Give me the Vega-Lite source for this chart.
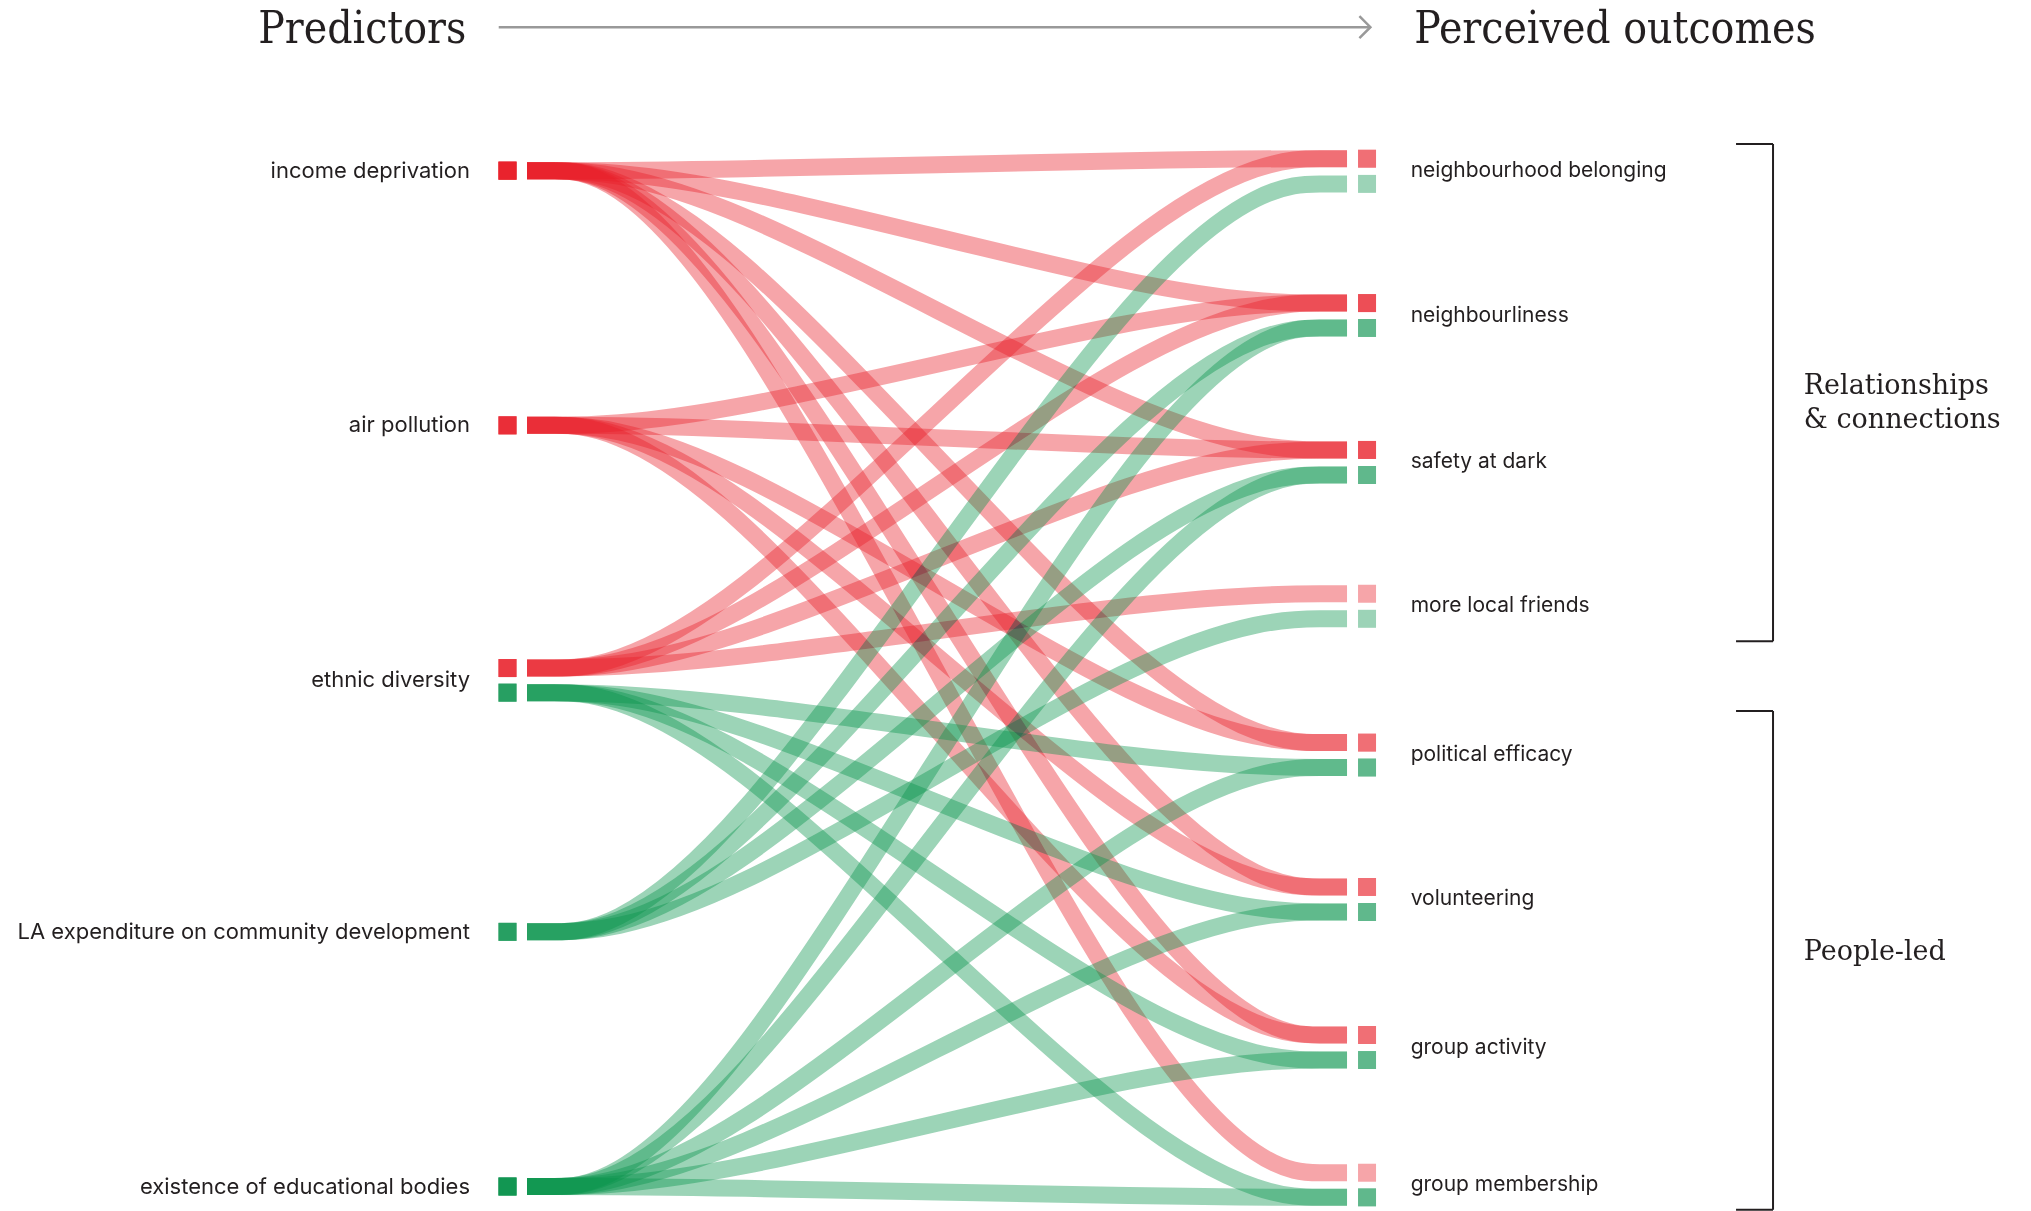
{
  "$schema": "https://vega.github.io/schema/vega-lite/v6.json",
  "width": 2031,
  "height": 1211,
  "autosize": {"type": "none"},
  "padding": 0,
  "background": "white",
  "config": {"view": {"stroke": null}, "font": "Inter"},
  "datasets": {
    "links": [
      {"predictor": "income deprivation", "outcome": "neighbourhood belonging", "effect": "negative", "from": 0.09, "to": 0.005},
      {"predictor": "income deprivation", "outcome": "neighbourliness", "effect": "negative", "from": 0.09, "to": 1.031},
      {"predictor": "income deprivation", "outcome": "safety at dark", "effect": "negative", "from": 0.09, "to": 2.075},
      {"predictor": "income deprivation", "outcome": "political efficacy", "effect": "negative", "from": 0.09, "to": 4.155},
      {"predictor": "income deprivation", "outcome": "volunteering", "effect": "negative", "from": 0.09, "to": 5.181},
      {"predictor": "income deprivation", "outcome": "group activity", "effect": "negative", "from": 0.09, "to": 6.233},
      {"predictor": "income deprivation", "outcome": "group membership", "effect": "negative", "from": 0.09, "to": 7.212},
      {"predictor": "air pollution", "outcome": "neighbourliness", "effect": "negative", "from": 1.9, "to": 1.031},
      {"predictor": "air pollution", "outcome": "safety at dark", "effect": "negative", "from": 1.9, "to": 2.075},
      {"predictor": "air pollution", "outcome": "political efficacy", "effect": "negative", "from": 1.9, "to": 4.155},
      {"predictor": "air pollution", "outcome": "volunteering", "effect": "negative", "from": 1.9, "to": 5.181},
      {"predictor": "air pollution", "outcome": "group activity", "effect": "negative", "from": 1.9, "to": 6.233},
      {"predictor": "ethnic diversity", "outcome": "neighbourhood belonging", "effect": "negative", "from": 3.625, "to": 0.005},
      {"predictor": "ethnic diversity", "outcome": "neighbourliness", "effect": "negative", "from": 3.625, "to": 1.031},
      {"predictor": "ethnic diversity", "outcome": "safety at dark", "effect": "negative", "from": 3.625, "to": 2.075},
      {"predictor": "ethnic diversity", "outcome": "more local friends", "effect": "negative", "from": 3.625, "to": 3.097},
      {"predictor": "ethnic diversity", "outcome": "political efficacy", "effect": "positive", "from": 3.8, "to": 4.332},
      {"predictor": "ethnic diversity", "outcome": "volunteering", "effect": "positive", "from": 3.8, "to": 5.359},
      {"predictor": "ethnic diversity", "outcome": "group activity", "effect": "positive", "from": 3.8, "to": 6.411},
      {"predictor": "ethnic diversity", "outcome": "group membership", "effect": "positive", "from": 3.8, "to": 7.387},
      {"predictor": "LA expenditure on community development", "outcome": "neighbourhood belonging", "effect": "positive", "from": 5.5, "to": 0.184},
      {"predictor": "LA expenditure on community development", "outcome": "neighbourliness", "effect": "positive", "from": 5.5, "to": 1.208},
      {"predictor": "LA expenditure on community development", "outcome": "safety at dark", "effect": "positive", "from": 5.5, "to": 2.253},
      {"predictor": "LA expenditure on community development", "outcome": "more local friends", "effect": "positive", "from": 5.5, "to": 3.275},
      {"predictor": "existence of educational bodies", "outcome": "neighbourliness", "effect": "positive", "from": 7.31, "to": 1.208},
      {"predictor": "existence of educational bodies", "outcome": "safety at dark", "effect": "positive", "from": 7.31, "to": 2.253},
      {"predictor": "existence of educational bodies", "outcome": "political efficacy", "effect": "positive", "from": 7.31, "to": 4.332},
      {"predictor": "existence of educational bodies", "outcome": "volunteering", "effect": "positive", "from": 7.31, "to": 5.359},
      {"predictor": "existence of educational bodies", "outcome": "group activity", "effect": "positive", "from": 7.31, "to": 6.411},
      {"predictor": "existence of educational bodies", "outcome": "group membership", "effect": "positive", "from": 7.31, "to": 7.387}
    ],
    "stages": [
      {"step": 1, "x": 0},
      {"step": 2, "x": 0.2},
      {"step": 3, "x": 0.8},
      {"step": 4, "x": 1}
    ],
    "groups": [
      {"group": "Relationships & connections", "top": -0.1, "bottom": 3.434},
      {"group": "People-led", "top": 3.93, "bottom": 7.475}
    ]
  },
  "data": {"name": "links"},
  "layer": [
    {
      "transform": [
        {"filter": "datum.effect === 'negative'"},
        {"fold": ["from", "from", "to", "to"], "as": ["end", "y"]},
        {"window": [{"op": "row_number", "as": "step"}], "groupby": ["predictor", "outcome", "effect"], "sort": [{"field": "end", "order": "ascending"}]},
        {"lookup": "step", "from": {"data": {"name": "stages"}, "key": "step", "fields": ["x"]}}
      ],
      "mark": {"type": "line", "interpolate": "basis", "strokeWidth": 17, "opacity": 0.4, "blend": "darken", "strokeCap": "butt"},
      "encoding": {
        "x": {"field": "x", "type": "quantitative", "scale": {"domain": [-0.6427, 1.8341], "nice": false, "zero": false}, "axis": null},
        "y": {"field": "y", "type": "quantitative", "scale": {"domain": [-1.123, 7.484], "reverse": true, "nice": false, "zero": false}, "axis": null},
        "detail": [{"field": "predictor"}, {"field": "outcome"}],
        "order": {"field": "step"},
        "color": {"field": "effect", "type": "nominal", "scale": {"domain": ["negative", "positive"], "range": ["#E81E27", "#07924A"]}, "legend": null}
      }
    },
    {
      "transform": [
        {"filter": "datum.effect === 'positive'"},
        {"fold": ["from", "from", "to", "to"], "as": ["end", "y"]},
        {"window": [{"op": "row_number", "as": "step"}], "groupby": ["predictor", "outcome", "effect"], "sort": [{"field": "end", "order": "ascending"}]},
        {"lookup": "step", "from": {"data": {"name": "stages"}, "key": "step", "fields": ["x"]}}
      ],
      "mark": {"type": "line", "interpolate": "basis", "strokeWidth": 17, "opacity": 0.4, "blend": "darken", "strokeCap": "butt"},
      "encoding": {
        "x": {"field": "x", "type": "quantitative", "scale": {"domain": [-0.6427, 1.8341], "nice": false, "zero": false}, "axis": null},
        "y": {"field": "y", "type": "quantitative", "scale": {"domain": [-1.123, 7.484], "reverse": true, "nice": false, "zero": false}, "axis": null},
        "detail": [{"field": "predictor"}, {"field": "outcome"}],
        "order": {"field": "step"},
        "color": {"field": "effect", "type": "nominal", "scale": {"domain": ["negative", "positive"], "range": ["#E81E27", "#07924A"]}, "legend": null}
      }
    },
    {
      "mark": {"type": "point", "shape": "square", "filled": true, "size": 324, "opacity": 0.4, "strokeWidth": 0},
      "encoding": {
        "x": {"datum": -0.0238, "type": "quantitative", "scale": {"domain": [-0.6427, 1.8341], "nice": false, "zero": false}},
        "y": {"field": "from", "type": "quantitative", "scale": {"domain": [-1.123, 7.484], "reverse": true, "nice": false, "zero": false}},
        "color": {"field": "effect", "type": "nominal", "legend": null}
      }
    },
    {
      "mark": {"type": "point", "shape": "square", "filled": true, "size": 324, "opacity": 0.4, "strokeWidth": 0},
      "encoding": {
        "x": {"datum": 1.0244, "type": "quantitative", "scale": {"domain": [-0.6427, 1.8341], "nice": false, "zero": false}},
        "y": {"field": "to", "type": "quantitative", "scale": {"domain": [-1.123, 7.484], "reverse": true, "nice": false, "zero": false}},
        "color": {"field": "effect", "type": "nominal", "legend": null}
      }
    },
    {
      "transform": [{"aggregate": [{"op": "count", "as": "n"}], "groupby": ["predictor", "effect", "from"]}],
      "mark": {"type": "text", "align": "right", "baseline": "middle", "font": "Inter", "fontSize": 22, "color": "#231F20"},
      "encoding": {
        "x": {"datum": -0.0695, "type": "quantitative"},
        "y": {"aggregate": "mean", "field": "from", "type": "quantitative"},
        "text": {"field": "predictor"}
      }
    },
    {
      "transform": [{"aggregate": [{"op": "count", "as": "n"}], "groupby": ["outcome", "effect", "to"]}],
      "mark": {"type": "text", "align": "left", "baseline": "middle", "font": "Inter", "fontSize": 21, "color": "#231F20"},
      "encoding": {
        "x": {"datum": 1.0776, "type": "quantitative"},
        "y": {"aggregate": "mean", "field": "to", "type": "quantitative"},
        "text": {"field": "outcome"}
      }
    },
    {
      "data": {"values": [{}]},
      "mark": {"type": "text", "text": "Predictors", "align": "right", "baseline": "alphabetic", "font": "DejaVu Serif Condensed", "fontSize": 44, "color": "#231F20"},
      "encoding": {"x": {"datum": -0.074, "type": "quantitative"}, "y": {"datum": -0.82, "type": "quantitative"}}
    },
    {
      "data": {"values": [{}]},
      "mark": {"type": "text", "text": "Perceived outcomes", "align": "left", "baseline": "alphabetic", "font": "DejaVu Serif Condensed", "fontSize": 44, "color": "#231F20"},
      "encoding": {"x": {"datum": 1.082, "type": "quantitative"}, "y": {"datum": -0.82, "type": "quantitative"}}
    },
    {
      "data": {"values": [{}]},
      "mark": {"type": "rule", "color": "#999999", "strokeWidth": 2.5},
      "encoding": {"x": {"datum": -0.0345, "type": "quantitative"}, "x2": {"datum": 1.0285}, "y": {"datum": -0.93, "type": "quantitative"}}
    },
    {
      "data": {"values": [{}]},
      "mark": {"type": "point", "shape": "M -1 -1 L 0 0 L -1 1", "filled": false, "size": 484, "stroke": "#999999", "strokeWidth": 2.5, "opacity": 1},
      "encoding": {"x": {"datum": 1.0285, "type": "quantitative"}, "y": {"datum": -0.93, "type": "quantitative"}}
    },
    {
      "data": {"name": "groups"},
      "mark": {"type": "rule", "color": "#231F20", "strokeWidth": 2},
      "encoding": {"x": {"datum": 1.5195, "type": "quantitative"}, "y": {"field": "top", "type": "quantitative"}, "y2": {"field": "bottom"}}
    },
    {
      "data": {"name": "groups"},
      "mark": {"type": "rule", "color": "#231F20", "strokeWidth": 2},
      "encoding": {"x": {"datum": 1.4744, "type": "quantitative"}, "x2": {"datum": 1.5195}, "y": {"field": "top", "type": "quantitative"}}
    },
    {
      "data": {"name": "groups"},
      "mark": {"type": "rule", "color": "#231F20", "strokeWidth": 2},
      "encoding": {"x": {"datum": 1.4744, "type": "quantitative"}, "x2": {"datum": 1.5195}, "y": {"field": "bottom", "type": "quantitative"}}
    },
    {
      "data": {"values": [{}]},
      "mark": {"type": "text", "text": ["Relationships", "& connections"], "align": "left", "baseline": "middle", "lineHeight": 34, "font": "DejaVu Serif", "fontSize": 27, "color": "#231F20"},
      "encoding": {"x": {"datum": 1.557, "type": "quantitative"}, "y": {"datum": 1.62, "type": "quantitative"}}
    },
    {
      "data": {"values": [{}]},
      "mark": {"type": "text", "text": "People-led", "align": "left", "baseline": "middle", "font": "DejaVu Serif", "fontSize": 27, "color": "#231F20"},
      "encoding": {"x": {"datum": 1.557, "type": "quantitative"}, "y": {"datum": 5.64, "type": "quantitative"}}
    }
  ]
}
